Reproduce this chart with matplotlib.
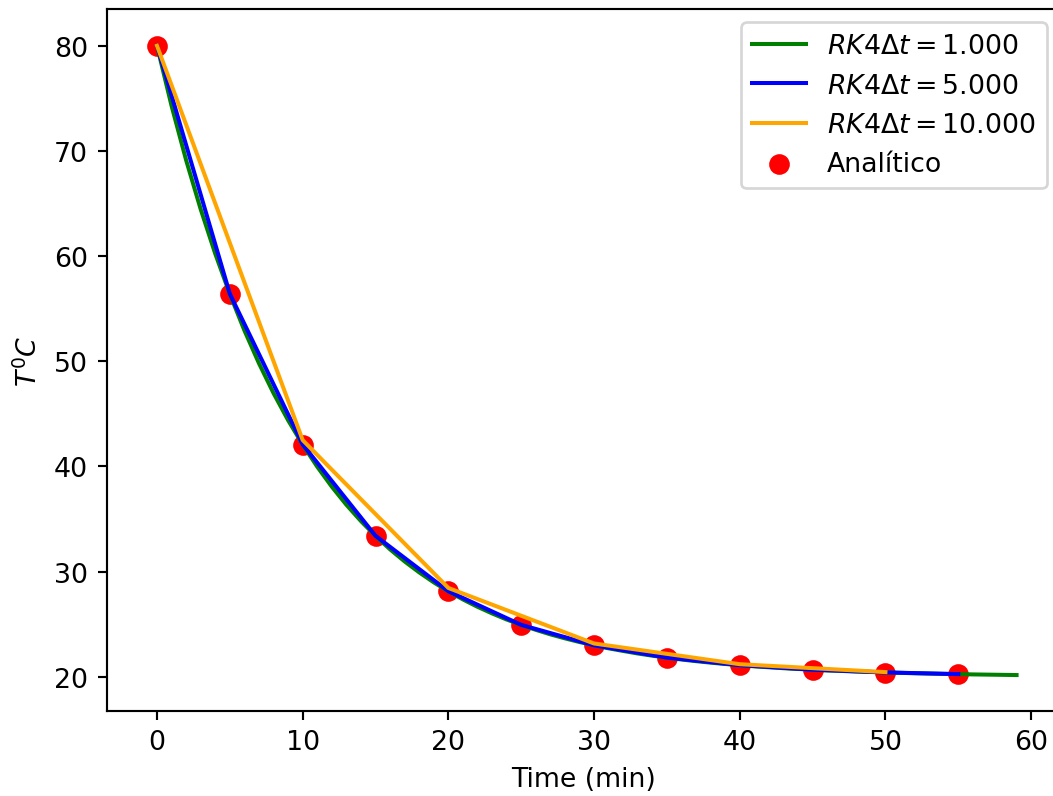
import matplotlib
matplotlib.use("Agg")
import matplotlib.pyplot as plt

# RK4, dt = 1 min
t_dt1 = list(range(0, 60))
T_dt1 = [80.00, 74.29, 69.12, 64.45, 60.22, 56.39, 52.93, 49.80, 46.96, 44.39,
         42.07, 39.97, 38.07, 36.35, 34.80, 33.39, 32.11, 30.96, 29.92, 28.97,
         28.12, 27.35, 26.65, 26.02, 25.44, 24.93, 24.46, 24.03, 23.65, 23.30,
         22.99, 22.70, 22.45, 22.21, 22.00, 21.81, 21.64, 21.48, 21.34, 21.21,
         21.10, 20.99, 20.90, 20.81, 20.74, 20.67, 20.60, 20.55, 20.49, 20.45,
         20.40, 20.37, 20.33, 20.30, 20.27, 20.25, 20.22, 20.20, 20.18, 20.16]

# RK4, dt = 5 min
t_dt5 = [0, 5, 10, 15, 20, 25, 30, 35, 40, 45, 50, 55]
T_dt5 = [80.00, 56.41, 42.09, 33.40, 28.13, 24.93, 22.99, 21.82, 21.10, 20.67, 20.41, 20.25]

# RK4, dt = 10 min
t_dt10 = [0, 10, 20, 30, 40, 50]
T_dt10 = [80.00, 42.50, 28.44, 23.16, 21.19, 20.44]

# analytic solution
t_an = [0, 5, 10, 15, 20, 25, 30, 35, 40, 45, 50, 55]
T_an = [80.00, 56.39, 42.07, 33.39, 28.12, 24.93, 22.99, 21.81, 21.10, 20.67, 20.40, 20.25]

dpi = 193
fig = plt.figure(figsize=(1053 / dpi, 797 / dpi), dpi=dpi)
# the original is cropped on the right, the right spine falls just outside
ax = fig.add_axes([107 / 1053, 85.3 / 797, 953 / 1053, 701.7 / 797])

ax.plot(t_dt1, T_dt1, color="green", label=r"$RK4\Delta t = 1.000$")
ax.plot(t_dt5, T_dt5, color="blue", label=r"$RK4\Delta t = 5.000$")
ax.plot(t_dt10, T_dt10, color="orange", label=r"$RK4\Delta t = 10.000$")
ax.scatter(t_an, T_an, color="red", s=45, label="Analítico")

ax.set_xlim(-3.43, 61.98)
ax.set_ylim(16.77, 83.49)
ax.set_xlabel("Time (min)")
ax.set_ylabel(r"$T^0C$")
ax.legend()

fig.savefig("out.png", dpi=dpi)
